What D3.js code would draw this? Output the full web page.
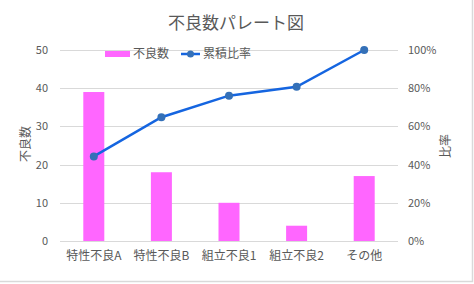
<!DOCTYPE html>
<html>
<head>
<meta charset="utf-8">
<script src="https://cdn.jsdelivr.net/npm/d3@7"></script>
<style>
  body { margin: 0; background: #fff; }
  text { font-family: "Noto Sans CJK JP", "Noto Sans", sans-serif; }
</style>
</head>
<body>
<div id="chart"></div>
<script>
var categories = ["特性不良A", "特性不良B", "組立不良1", "組立不良2", "その他"];
var counts = [39, 18, 10, 4, 17];
var cumRatio = [44.3, 64.8, 76.1, 80.7, 100];
var leftTicks = [0, 10, 20, 30, 40, 50];
var rightTicks = [0, 20, 40, 60, 80, 100];

var W = 474, H = 284;
var margin = {top: 50, right: 76, bottom: 43, left: 60};
var width = W - margin.left - margin.right;
var height = H - margin.top - margin.bottom;

var svg = d3.select("#chart").append("svg")
  .attr("width", W)
  .attr("height", H);

// chart frame
svg.append("rect")
  .attr("x", -1).attr("y", -1)
  .attr("width", 473.5).attr("height", 282.5)
  .attr("fill", "none")
  .attr("stroke", "#d9d9d9")
  .attr("stroke-width", 1.5);

var g = svg.append("g")
  .attr("transform", "translate(" + margin.left + "," + margin.top + ")");

var x = d3.scaleBand().domain(categories).range([0, width]);
var y = d3.scaleLinear().domain([0, 50]).range([height, 0]);
var y2 = d3.scaleLinear().domain([0, 100]).range([height, 0]);

// gridlines
g.selectAll(".grid")
  .data(leftTicks)
  .enter().append("line")
  .attr("x1", 0).attr("x2", width)
  .attr("y1", function(d) { return Math.round(y(d)) + 0.5; })
  .attr("y2", function(d) { return Math.round(y(d)) + 0.5; })
  .attr("stroke", "#d9d9d9")
  .attr("stroke-width", 1);

// left axis
var yAxis = g.append("g")
  .call(d3.axisLeft(y).tickValues(leftTicks).tickSize(0).tickPadding(12));
yAxis.select(".domain").remove();
yAxis.selectAll("text").attr("fill", "#595959").style("font-size", "11px");

// right axis
var yAxis2 = g.append("g")
  .attr("transform", "translate(" + width + ",0)")
  .call(d3.axisRight(y2).tickValues(rightTicks).tickSize(0).tickPadding(10)
    .tickFormat(function(d) { return d + "%"; }));
yAxis2.select(".domain").remove();
yAxis2.selectAll("text").attr("fill", "#595959").style("font-size", "11px");

// x axis
var xAxis = g.append("g")
  .attr("transform", "translate(0," + height + ")")
  .call(d3.axisBottom(x).tickSize(0).tickPadding(10));
xAxis.select(".domain").remove();
xAxis.selectAll("text").attr("fill", "#595959").style("font-size", "12px");

// bars
var barW = 21;
g.selectAll(".bar")
  .data(counts)
  .enter().append("rect")
  .attr("x", function(d, i) { return x(categories[i]) + x.bandwidth() / 2 - barW / 2; })
  .attr("y", function(d) { return y(d); })
  .attr("width", barW)
  .attr("height", function(d) { return height - y(d); })
  .attr("fill", "#ff66ff");

// cumulative line
var line = d3.line()
  .x(function(d, i) { return x(categories[i]) + x.bandwidth() / 2; })
  .y(function(d) { return y2(d); });

g.append("path")
  .attr("d", line(cumRatio))
  .attr("fill", "none")
  .attr("stroke", "#1565e0")
  .attr("stroke-width", 2.5);

g.selectAll(".dot")
  .data(cumRatio)
  .enter().append("circle")
  .attr("cx", function(d, i) { return x(categories[i]) + x.bandwidth() / 2; })
  .attr("cy", function(d) { return y2(d); })
  .attr("r", 4)
  .attr("fill", "#3470b8");

// title
svg.append("text")
  .attr("x", 236).attr("y", 29)
  .attr("text-anchor", "middle")
  .attr("fill", "#595959")
  .style("font-size", "17px")
  .text("不良数パレート図");

// axis titles
svg.append("text")
  .attr("transform", "translate(30,144) rotate(-90)")
  .attr("text-anchor", "middle")
  .attr("fill", "#595959")
  .style("font-size", "12px")
  .text("不良数");

svg.append("text")
  .attr("transform", "translate(450,146) rotate(-90)")
  .attr("text-anchor", "middle")
  .attr("fill", "#595959")
  .style("font-size", "12px")
  .text("比率");

// legend
var legend = svg.append("g");
legend.append("rect")
  .attr("x", 105).attr("y", 51)
  .attr("width", 25).attr("height", 6)
  .attr("fill", "#ff66ff");
legend.append("text")
  .attr("x", 133).attr("y", 58)
  .attr("fill", "#595959")
  .style("font-size", "12px")
  .text("不良数");
legend.append("line")
  .attr("x1", 181).attr("x2", 200)
  .attr("y1", 54).attr("y2", 54)
  .attr("stroke", "#1565e0")
  .attr("stroke-width", 2.5);
legend.append("circle")
  .attr("cx", 190.5).attr("cy", 54)
  .attr("r", 3.5)
  .attr("fill", "#3470b8");
legend.append("text")
  .attr("x", 203).attr("y", 58)
  .attr("fill", "#595959")
  .style("font-size", "12px")
  .text("累積比率");
</script>
</body>
</html>
